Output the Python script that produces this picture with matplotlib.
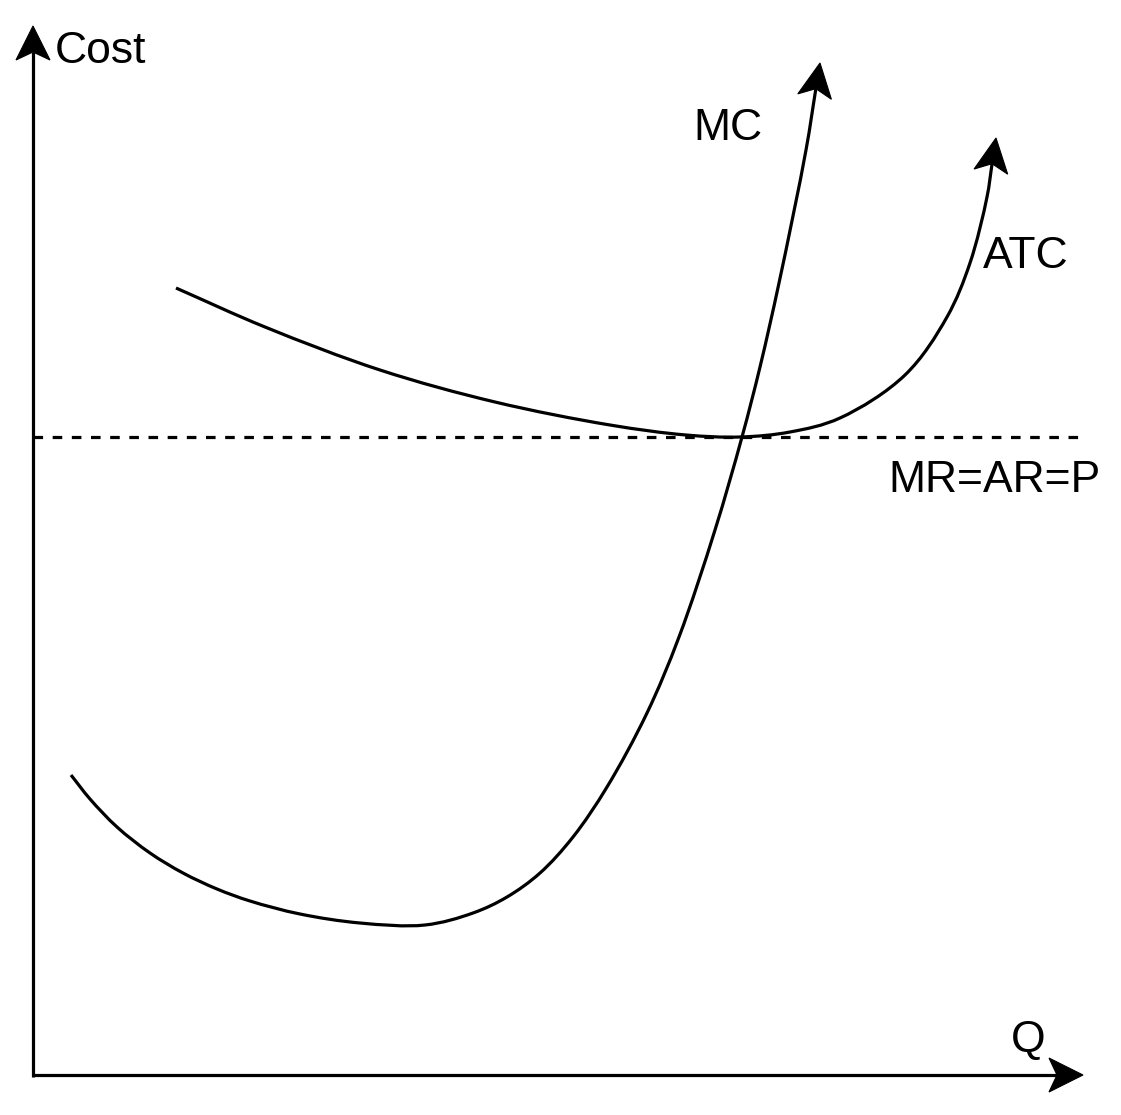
import numpy as np
import matplotlib
matplotlib.use("Agg")
import matplotlib.pyplot as plt
from matplotlib.path import Path
from matplotlib.patches import PathPatch, Polygon

# points (q along the Q axis, cost up the Cost axis)
mc_q = [38, 57, 84, 117, 150, 184, 217, 267, 327, 392, 440, 474, 507,
        540, 574, 614, 646, 682, 709, 727, 746, 773, 787]
mc_cost = [300, 276, 248, 222, 202, 186, 174, 161, 152, 150, 162, 178, 202,
           238, 288, 362, 438, 545, 638, 708, 792, 925, 1012]

atc_q = [143, 232, 347, 462, 577, 653, 707, 757, 807, 872, 914, 937, 954, 963]
atc_cost = [787, 748, 705, 673, 650, 640, 638, 643, 657, 700, 758, 812, 878, 937]

price = 638
axis_end = 1049
price_end = 1047

labels = ["Cost", "Q", "MC", "ATC", "MR=AR=P"]
label_q = [22, 978, 660, 950, 855]
label_cost = [1012, 23, 935, 807, 583]

LW = 2.3
FONT = "Liberation Sans"


def arrow_head(ax, tip, prev, length=34, half=17, notch=26):
    tip = np.asarray(tip, float)
    d = tip - np.asarray(prev, float)
    d /= np.hypot(*d)
    n = np.array([-d[1], d[0]])
    base = tip - length * d
    pts = [tip, base + half * n, tip - notch * d, base - half * n]
    ax.add_patch(Polygon(pts, closed=True, fc="black", ec="black", lw=0.8,
                         joinstyle="miter", zorder=5))
    return tip - notch * d


def smooth_path(xs, ys):
    # centripetal catmull-rom through the read points, as cubic beziers
    p = np.column_stack([xs, ys]).astype(float)
    p = np.vstack([2 * p[0] - p[1], p, 2 * p[-1] - p[-2]])
    verts = [p[1]]
    codes = [Path.MOVETO]
    for i in range(1, len(p) - 2):
        p0, p1, p2, p3 = p[i - 1], p[i], p[i + 1], p[i + 2]
        t01 = np.hypot(*(p1 - p0)) ** 0.5
        t12 = np.hypot(*(p2 - p1)) ** 0.5
        t23 = np.hypot(*(p3 - p2)) ** 0.5
        m1 = t12 * ((p1 - p0) / t01 - (p2 - p0) / (t01 + t12) + (p2 - p1) / t12)
        m2 = t12 * ((p2 - p1) / t12 - (p3 - p1) / (t12 + t23) + (p3 - p2) / t23)
        verts += [p1 + m1 / 3, p2 - m2 / 3, p2]
        codes += [Path.CURVE4] * 3
    return Path(verts, codes)


def curve_with_arrow(ax, xs, ys):
    xs = list(xs)
    ys = list(ys)
    end = arrow_head(ax, (xs[-1], ys[-1]), (xs[-2], ys[-2]))
    xs[-1], ys[-1] = end
    ax.add_patch(PathPatch(smooth_path(xs, ys), fc="none", ec="black",
                           lw=LW, capstyle="butt", zorder=4))


fig = plt.figure(figsize=(11.21, 11.15), dpi=100)
ax = fig.add_axes([0, 0, 1, 1])
ax.set_xlim(-33, 1088)
ax.set_ylim(-40, 1075)
ax.set_aspect("equal")
ax.axis("off")

# axes with arrows
yend = arrow_head(ax, (0, axis_end), (0, 0))
ax.plot([0, 0], [-2, yend[1]], color="black", lw=LW, solid_capstyle="butt")
xend = arrow_head(ax, (axis_end + 1, 0), (0, 0))
ax.plot([-1, xend[0]], [0, 0], color="black", lw=LW, solid_capstyle="butt")

# price line
ax.plot([0, price_end], [price, price], color="black", lw=LW,
        linestyle=(0, (3, 3)), zorder=3)

# cost curves
curve_with_arrow(ax, mc_q, mc_cost)
curve_with_arrow(ax, atc_q, atc_cost)

for txt, q, c in zip(labels, label_q, label_cost):
    ax.text(q, c, txt, fontsize=32, family=FONT, ha="left", va="baseline")

fig.savefig("out.png", dpi=100, facecolor="white")
